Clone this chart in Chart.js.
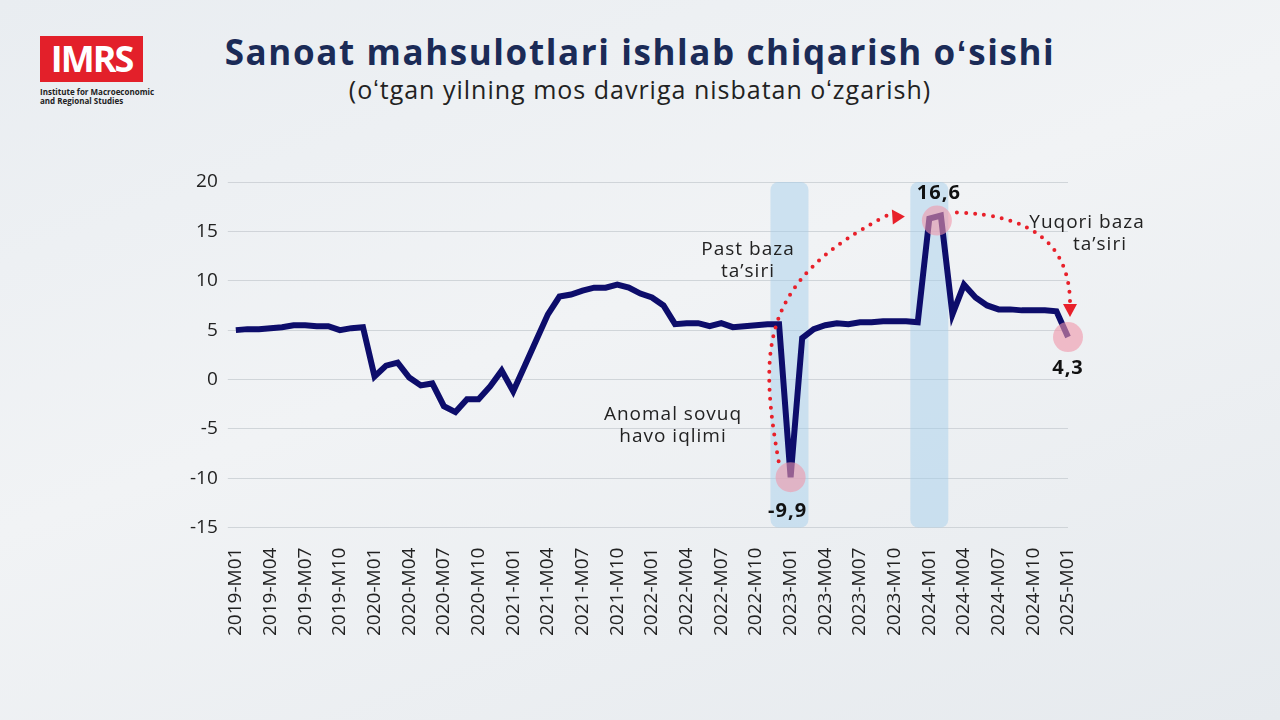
<!DOCTYPE html>
<html><head><meta charset="utf-8">
<script src="https://cdn.jsdelivr.net/npm/chart.js@4.4.1/dist/chart.umd.min.js"></script>
<style>
body{margin:0;width:1280px;height:720px;overflow:hidden;font-family:"Open Sans",sans-serif;
background:linear-gradient(160deg,#e9edf1 0%,#f1f3f5 45%,#e6eaee 100%);position:relative}
#wrap{position:absolute;left:0;top:0;width:1280px;height:720px}
h1{position:absolute;top:28px;left:0;width:1280px;text-align:center;margin:0;font-size:35px;color:#1b2b57;font-weight:700;letter-spacing:1.6px}
h2{position:absolute;top:72px;left:0;width:1280px;text-align:center;margin:0;font-size:25px;color:#222;font-weight:400;letter-spacing:1px}
#logo{position:absolute;left:40px;top:36px;width:103px;height:46px;background:#e3202a;color:#fff;font-weight:700;font-size:36px;line-height:46px;text-align:center;letter-spacing:-2px}
#logosub{position:absolute;left:40px;top:87px;font-size:8px;line-height:9px;color:#222;font-weight:700}
</style></head><body>
<div id="logo">IMRS</div>
<div id="logosub">Institute for Macroeconomic<br>and Regional Studies</div>
<h1>Sanoat mahsulotlari ishlab chiqarish oʻsishi</h1>
<h2>(oʻtgan yilning mos davriga nisbatan oʻzgarish)</h2>
<div id="wrap"><canvas id="c" width="1280" height="720"></canvas></div>
<script>
// monthly labels 2019-M01 .. 2025-M01
const months = [];
for (let y = 2019; y <= 2025; y++) {
    for (let m = 1; m <= 12; m++) {
        if (y === 2025 && m > 1) break;
        months.push(`${y}-M${String(m).padStart(2, "0")}`);
    }
}
const growth2019 = [5.0, 5.1, 5.1, 5.2, 5.3, 5.5, 5.5, 5.4, 5.4, 5.0, 5.2, 5.3];
const growth2020 = [0.3, 1.4, 1.7, 0.2, -0.6, -0.4, -2.7, -3.3, -2.0, -2.0, -0.7, 0.9];
const growth2021 = [-1.2, 1.4, 4.0, 6.6, 8.4, 8.6, 9.0, 9.3, 9.3, 9.6, 9.3, 8.7];
const growth2022 = [8.3, 7.5, 5.6, 5.7, 5.7, 5.4, 5.7, 5.3, 5.4, 5.5, 5.6, 5.6];
const growth2023 = [-9.9, 4.2, 5.1, 5.5, 5.7, 5.6, 5.8, 5.8, 5.9, 5.9, 5.9, 5.8];
const growth2024 = [16.3, 16.6, 6.6, 9.6, 8.3, 7.5, 7.1, 7.1, 7.0, 7.0, 7.0, 6.9];
const growth2025 = [4.3];
const growth = [...growth2019, ...growth2020, ...growth2021, ...growth2022, ...growth2023, ...growth2024, ...growth2025];
const yTicks = [-15, -10, -5, 0, 5, 10, 15, 20];

const iLow = growth.indexOf(-9.9);
const iHigh = growth.indexOf(16.6);
const iLast = growth.length - 1;
const iBand2 = months.indexOf("2024-M01");

const overlay = {
    id: "overlay",
    beforeDatasetsDraw(chart) {
        const { ctx, scales: { x, y } } = chart;
        ctx.save();
        ctx.fillStyle = "rgba(160,205,235,0.45)";
        const band = (i) => {
            const cx = x.getPixelForValue(i);
            ctx.beginPath();
            ctx.roundRect(cx - 19, y.getPixelForValue(20), 38, y.getPixelForValue(-15) - y.getPixelForValue(20), 8);
            ctx.fill();
        };
        band(iLow - 0.1);
        band(iBand2);
        ctx.restore();
    },
    afterDatasetsDraw(chart) {
        const { ctx, scales: { x, y } } = chart;
        const pt = (i) => ({ x: x.getPixelForValue(i), y: y.getPixelForValue(growth[i]) });
        const a = pt(iLow), b = pt(iHigh), c = pt(iLast);
        b.x -= 4; b.y += 5;
        ctx.save();
        ctx.fillStyle = "rgba(240,150,170,0.6)";
        [a, b, c].forEach((p) => { ctx.beginPath(); ctx.arc(p.x, p.y, 15, 0, Math.PI * 2); ctx.fill(); });
        // dotted arcs
        ctx.strokeStyle = "#e8202a";
        ctx.lineWidth = 4;
        ctx.lineCap = "round";
        ctx.setLineDash([0, 9]);
        ctx.beginPath();
        ctx.moveTo(a.x - 12, a.y - 16);
        ctx.bezierCurveTo(a.x - 32, a.y - 130, a.x - 30, b.y + 60, b.x - 50, b.y - 5);
        ctx.stroke();
        ctx.beginPath();
        ctx.moveTo(b.x + 20, b.y - 8);
        ctx.quadraticCurveTo(c.x, b.y - 5, c.x + 2, c.y - 36);
        ctx.stroke();
        ctx.setLineDash([]);
        ctx.fillStyle = "#e8202a";
        ctx.beginPath();
        ctx.moveTo(b.x - 32, b.y - 4); ctx.lineTo(b.x - 45, b.y - 11); ctx.lineTo(b.x - 44, b.y + 4); ctx.fill();
        ctx.beginPath();
        ctx.moveTo(c.x + 2, c.y - 20); ctx.lineTo(c.x - 5, c.y - 33); ctx.lineTo(c.x + 9, c.y - 33); ctx.fill();
        // labels
        ctx.fillStyle = "#111";
        ctx.textAlign = "center";
        ctx.letterSpacing = "1px";
        ctx.font = "bold 20px 'Open Sans'";
        ctx.fillText("-9,9", a.x - 3, a.y + 40);
        ctx.fillText("16,6", b.x + 2, b.y - 22);
        ctx.fillText("4,3", c.x, c.y + 37);
        ctx.font = "19px 'Open Sans'";
        ctx.fillStyle = "#222";
        ctx.fillText("Past baza", 748, 255);
        ctx.fillText("ta’siri", 748, 277);
        ctx.fillText("Anomal sovuq", 673, 420);
        ctx.fillText("havo iqlimi", 673, 442);
        ctx.fillText("Yuqori baza", 1087, 228);
        ctx.fillText("ta’siri", 1100, 250);
        ctx.restore();
    },
};

new Chart(document.getElementById("c"), {
    type: "line",
    data: {
        labels: months,
        datasets: [{
            data: growth,
            borderColor: "#0d0d6b",
            borderWidth: 6,
            pointRadius: 0,
            tension: 0,
        }],
    },
    options: {
        responsive: false,
        animation: false,
        layout: { padding: { left: 180, right: 212, top: 182, bottom: 72 } },
        plugins: { legend: { display: false }, tooltip: { enabled: false } },
        scales: {
            x: {
                grid: { display: false },
                border: { display: false },
                ticks: {
                    autoSkip: false,
                    maxRotation: 90,
                    minRotation: 90,
                    color: "#222",
                    padding: 12,
                    font: { size: 19, family: "Open Sans" },
                    callback: (v, i) => (i % 3 === 0 ? months[i] : ""),
                },
            },
            y: {
                min: -15,
                max: 20,
                afterBuildTicks: (s) => { s.ticks = yTicks.map((v) => ({ value: v })); },
                grid: { color: "rgba(200,205,210,0.8)" },
                border: { display: false },
                ticks: { color: "#222", font: { size: 19, family: "Open Sans" }, padding: 10 },
            },
        },
    },
    plugins: [overlay],
});
</script>
</body></html>
